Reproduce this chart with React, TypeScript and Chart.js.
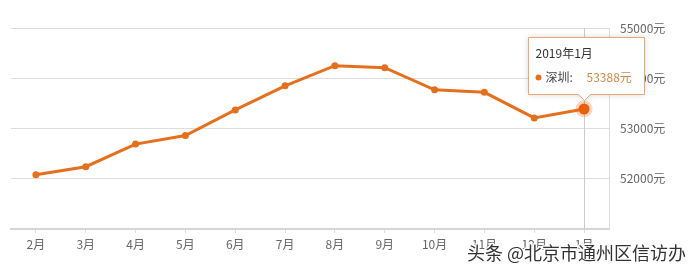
import { useEffect, useRef } from 'react';
import { Chart, registerables } from 'chart.js';

Chart.register(...registerables);

const categories = ['2月', '3月', '4月', '5月', '6月', '7月', '8月', '9月', '10月', '11月', '12月', '1月'];
const prices = [52080, 52240, 52690, 52860, 53370, 53850, 54250, 54210, 53770, 53720, 53210, 53388];
const yMin = 51000;
const yMax = 55000;
const yStep = 1000;
const tooltipTitle = '2019年1月';
const seriesName = '深圳';
const activeIndex = 11;
const watermark = '头条 @北京市通州区信访办';

const FONT = '"Noto Sans CJK SC", "Noto Sans", sans-serif';
const LINE = '#e4701e';

const overlayPlugin = {
  id: 'overlay',
  beforeDatasetsDraw(chart: any) {
    const { ctx, chartArea } = chart;
    const p = chart.getDatasetMeta(0).data[activeIndex];
    if (!p) return;
    ctx.save();
    ctx.strokeStyle = '#cccccc';
    ctx.lineWidth = 1;
    ctx.beginPath();
    ctx.moveTo(Math.round(p.x) + 0.5, chartArea.top);
    ctx.lineTo(Math.round(p.x) + 0.5, chartArea.bottom);
    ctx.stroke();
    ctx.restore();
  },
  afterDatasetsDraw(chart: any) {
    const { ctx } = chart;
    const p = chart.getDatasetMeta(0).data[activeIndex];
    if (!p) return;
    ctx.save();
    ctx.fillStyle = 'rgba(232,110,30,0.28)';
    ctx.beginPath();
    ctx.arc(p.x, p.y, 8.5, 0, Math.PI * 2);
    ctx.fill();
    ctx.fillStyle = '#e8600e';
    ctx.beginPath();
    ctx.arc(p.x, p.y, 5.5, 0, Math.PI * 2);
    ctx.fill();
    ctx.restore();
  },
  afterDraw(chart: any) {
    const { ctx } = chart;
    const p = chart.getDatasetMeta(0).data[activeIndex];
    if (!p) return;
    const w = 116;
    const h = 57;
    const bx = Math.round(p.x) - 56 + 0.5;
    const by = Math.round(p.y) - 72 + 0.5;
    const ax = Math.round(p.x) + 0.5;
    ctx.save();
    ctx.shadowColor = 'rgba(0,0,0,0.18)';
    ctx.shadowBlur = 6;
    ctx.fillStyle = '#ffffff';
    ctx.strokeStyle = '#eba874';
    ctx.lineWidth = 1;
    ctx.beginPath();
    ctx.moveTo(bx, by);
    ctx.lineTo(bx + w, by);
    ctx.lineTo(bx + w, by + h);
    ctx.lineTo(ax + 6, by + h);
    ctx.lineTo(ax, by + h + 6);
    ctx.lineTo(ax - 6, by + h);
    ctx.lineTo(bx, by + h);
    ctx.closePath();
    ctx.fill();
    ctx.shadowColor = 'transparent';
    ctx.stroke();

    ctx.textBaseline = 'middle';
    ctx.textAlign = 'left';
    ctx.font = `12px ${FONT}`;
    ctx.fillStyle = '#333333';
    ctx.fillText(tooltipTitle, bx + 7, by + 16);
    ctx.fillStyle = LINE;
    ctx.beginPath();
    ctx.arc(bx + 10, by + 40, 3, 0, Math.PI * 2);
    ctx.fill();
    ctx.fillStyle = '#444444';
    ctx.fillText(seriesName + ':', bx + 17, by + 40);
    ctx.fillStyle = '#c98a4e';
    ctx.fillText(prices[activeIndex] + '元', bx + 58, by + 40);

    ctx.font = `18px ${FONT}`;
    ctx.textAlign = 'right';
    ctx.lineJoin = 'round';
    ctx.strokeStyle = 'rgba(255,255,255,0.9)';
    ctx.lineWidth = 3;
    ctx.strokeText(watermark, 686, 253);
    ctx.fillStyle = '#333333';
    ctx.fillText(watermark, 686, 253);
    ctx.restore();
  },
};

export default function App() {
  const ref = useRef<HTMLCanvasElement | null>(null);
  useEffect(() => {
    if (!ref.current) return;
    const chart = new Chart(ref.current, {
      type: 'line',
      data: {
        labels: categories,
        datasets: [
          {
            label: seriesName,
            data: prices,
            borderColor: LINE,
            backgroundColor: LINE,
            borderWidth: 3,
            pointRadius: 3.5,
            pointBackgroundColor: LINE,
            pointBorderWidth: 0,
            tension: 0,
          },
        ],
      },
      options: {
        animation: false,
        responsive: true,
        maintainAspectRatio: false,
        events: [],
        layout: { padding: { top: 28, left: 11, right: 0, bottom: 0 } },
        plugins: { legend: { display: false }, tooltip: { enabled: false } },
        scales: {
          x: {
            offset: true,
            grid: { offset: false, drawOnChartArea: false, drawTicks: true, tickLength: 4, color: '#dddddd' },
            border: { color: '#d6d6d6', width: 2 },
            ticks: { color: '#666666', font: { size: 12, family: FONT }, padding: 4, maxRotation: 0, autoSkip: false },
            afterFit: (s: any) => { s.height = 42; },
          },
          y: {
            position: 'right',
            min: yMin,
            max: yMax,
            ticks: {
              stepSize: yStep,
              color: '#666666',
              font: { size: 12, family: FONT },
              padding: 11,
              callback: (v: any) => (Number(v) === yMin ? '' : v + '元'),
            },
            grid: {
              drawTicks: false,
              color: (c: any) => (c.tick && c.tick.value === yMin ? 'rgba(0,0,0,0)' : '#dddddd'),
            },
            border: { display: true, color: '#dddddd' },
            afterFit: (s: any) => { s.width = 79; },
          },
        },
      },
      plugins: [overlayPlugin],
    });
    return () => chart.destroy();
  }, []);
  return (
    <div style={{ position: 'fixed', left: 0, top: 0, width: 688, height: 271, background: '#fff' }}>
      <canvas ref={ref} />
    </div>
  );
}
